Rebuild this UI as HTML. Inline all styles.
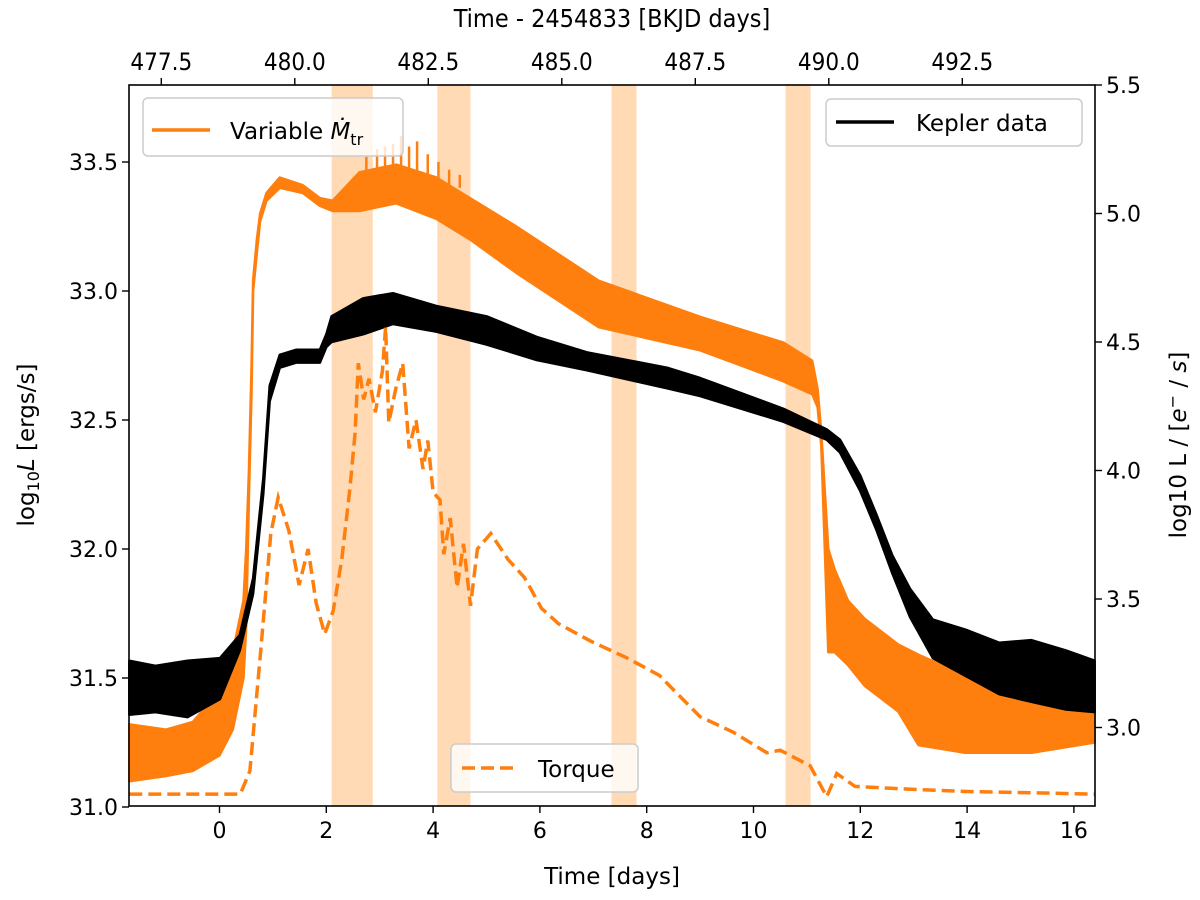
<!DOCTYPE html>
<html><head><meta charset="utf-8">
<style>
body{margin:0;background:#fff;}
svg text{font-family:"DejaVu Sans","Liberation Sans",sans-serif;fill:#000;}
</style></head>
<body>
<svg id="chart" width="1200" height="895" xmlns="http://www.w3.org/2000/svg">
<g id="shades"></g>
<g id="series"></g>
<rect x="129" y="85" width="966" height="721" fill="none" stroke="#000" stroke-width="1.6"/>
<g id="axes"></g>
<text x="612" y="884" font-size="23" text-anchor="middle">Time [days]</text>
<text x="612" y="27" font-size="25" text-anchor="middle" style="font-family:'DejaVu Sans Condensed','DejaVu Sans',sans-serif">Time - 2454833 [BKJD days]</text>
<text transform="translate(34,445) rotate(-90)" font-size="23" text-anchor="middle">log<tspan font-size="16" dy="5">10</tspan><tspan dy="-5" font-style="italic">L</tspan> [ergs/s]</text>
<text transform="translate(1186,445) rotate(-90)" font-size="23" text-anchor="middle">log10 L / [<tspan font-style="italic">e</tspan><tspan font-size="16" dy="-8">−</tspan><tspan dy="8"> / </tspan><tspan font-style="italic">s</tspan>]</text>
<g>
<rect x="143" y="98" width="260" height="58" rx="5" fill="#fff" fill-opacity="0.8" stroke="#ccc" stroke-width="1.5"/>
<line x1="152" y1="130" x2="210" y2="130" stroke="#ff7f0e" stroke-width="3.5"/>
<text x="230" y="139" font-size="23">Variable <tspan font-style="italic">Ṁ</tspan><tspan font-size="16" dy="6">tr</tspan></text>
</g>
<g>
<rect x="826" y="99" width="256" height="47" rx="5" fill="#fff" fill-opacity="0.8" stroke="#ccc" stroke-width="1.5"/>
<line x1="836" y1="122" x2="894" y2="122" stroke="#000" stroke-width="3.5"/>
<text x="916" y="131" font-size="23">Kepler data</text>
</g>
<g>
<rect x="451" y="744" width="187" height="48" rx="5" fill="#fff" fill-opacity="0.8" stroke="#ccc" stroke-width="1.5"/>
<line x1="462" y1="768" x2="518" y2="768" stroke="#ff7f0e" stroke-width="3.5" stroke-dasharray="13,6"/>
<text x="538" y="777" font-size="23">Torque</text>
</g>
</svg>
<script>
const shadeStarts=[2.1,4.08,7.34,10.6];
const shadeEnds=[2.87,4.70,7.81,11.07];
const bottomTicks=[0,2,4,6,8,10,12,14,16];
const topTicks=[477.5,480.0,482.5,485.0,487.5,490.0,492.5];
const leftTicks=[31.0,31.5,32.0,32.5,33.0,33.5];
const rightTicks=[3.0,3.5,4.0,4.5,5.0,5.5];
const mdotDays=[-1.69,-1.0,-0.5,0.0,0.25,0.45,0.5,0.55,0.6,0.63,0.7,0.76,0.88,1.13,1.56,1.88,2.12,2.62,3.31,4.06,4.69,5.56,7.1,9.0,10.56,11.1,11.2,11.27,11.4,11.52,11.77,12.08,12.71,13.09,13.96,15.21,16.39];
const mdotUpper=[31.32,31.3,31.33,31.45,31.6,31.8,32.0,32.3,32.7,33.04,33.2,33.3,33.38,33.44,33.41,33.36,33.35,33.46,33.49,33.44,33.36,33.25,33.04,32.9,32.8,32.73,32.62,32.45,32.0,31.92,31.8,31.73,31.63,31.59,31.51,31.47,31.37];
const mdotLower=[31.1,31.12,31.14,31.2,31.3,31.5,31.7,32.2,32.6,33.0,33.15,33.27,33.35,33.4,33.38,33.33,33.31,33.31,33.34,33.28,33.2,33.07,32.86,32.77,32.65,32.6,32.55,32.4,31.6,31.6,31.55,31.47,31.37,31.24,31.21,31.21,31.25];
const spikeDays=[2.75,2.95,3.1,3.25,3.4,3.55,3.7,3.9,4.1,4.3,4.5];
const spikeVals=[33.52,33.55,33.56,33.57,33.6,33.56,33.58,33.53,33.5,33.47,33.45];
const keplerDays=[-1.69,-1.2,-0.6,0.01,0.38,0.63,0.82,0.94,1.13,1.44,1.88,2.0,2.1,2.69,3.25,4.06,5.0,5.94,6.88,8.38,9.0,10.56,11.37,11.62,12.0,12.3,12.6,12.93,13.36,13.98,14.6,15.2,15.85,16.39];
const keplerUpper=[3.26,3.24,3.26,3.27,3.36,3.58,3.97,4.33,4.45,4.47,4.47,4.53,4.6,4.67,4.69,4.64,4.6,4.52,4.46,4.4,4.36,4.24,4.16,4.12,3.98,3.83,3.67,3.54,3.42,3.38,3.33,3.34,3.3,3.26];
const keplerLower=[3.05,3.06,3.04,3.11,3.3,3.52,3.91,4.27,4.4,4.42,4.42,4.48,4.5,4.53,4.57,4.54,4.49,4.43,4.39,4.32,4.29,4.19,4.12,4.07,3.92,3.77,3.6,3.43,3.27,3.2,3.13,3.1,3.07,3.06];
const torqueDays=[-1.69,0.39,0.57,0.77,0.96,1.10,1.30,1.49,1.66,1.81,1.97,2.13,2.29,2.44,2.54,2.6,2.7,2.8,2.92,3.05,3.11,3.17,3.3,3.43,3.55,3.68,3.81,3.9,4.0,4.13,4.2,4.32,4.45,4.57,4.7,4.83,5.08,5.4,5.71,6.03,6.35,6.98,7.61,8.24,8.52,9.0,9.62,10.25,10.5,11.06,11.37,11.56,11.9,12.8,14.0,16.39];
const torqueVals=[31.05,31.05,31.14,31.6,32.06,32.2,32.07,31.86,32.0,31.79,31.67,31.76,31.96,32.23,32.45,32.72,32.58,32.66,32.53,32.69,32.86,32.49,32.62,32.72,32.39,32.5,32.31,32.42,32.22,32.19,31.98,32.12,31.85,32.02,31.78,32.0,32.06,31.96,31.89,31.77,31.71,31.64,31.58,31.51,31.45,31.35,31.29,31.21,31.22,31.16,31.04,31.13,31.08,31.07,31.06,31.05];

const NS='http://www.w3.org/2000/svg';
const X0=129,X1=1095,Y0=85,Y1=806;
const xS=d=>219.5+53.4*d;
const xTop=t=>xS(t-478.59);
const yL=v=>162+(33.5-v)*258;
const yR=v=>85+(5.5-v)*257;
function mk(tag,parent,attrs){const e=document.createElementNS(NS,tag);for(const k in attrs)e.setAttribute(k,attrs[k]);parent.appendChild(e);return e;}
const shades=document.getElementById('shades'),series=document.getElementById('series'),axes=document.getElementById('axes');
shadeStarts.forEach((s,i)=>{
  const r=mk('rect',shades,{x:xS(s),y:Y0,width:xS(shadeEnds[i])-xS(s),height:Y1-Y0,fill:'#ffdab4'});
  
  
});
function band(days,up,lo,ys){
  let p=days.map((d,i)=>xS(d).toFixed(1)+','+ys(up[i]).toFixed(1));
  for(let i=days.length-1;i>=0;i--)p.push(xS(days[i]).toFixed(1)+','+ys(lo[i]).toFixed(1));
  return p.join(' ');
}
const mb=mk('polygon',series,{points:band(mdotDays,mdotUpper,mdotLower,yL),fill:'#ff7f0e',stroke:'#ff7f0e','stroke-width':2.5,'stroke-linejoin':'round'});


spikeDays.forEach((d,i)=>{
  const l=mk('line',series,{x1:xS(d),x2:xS(d),y1:yL(33.4),y2:yL(spikeVals[i]),stroke:'#ff7f0e','stroke-width':2.5});
  
  
});
const kb=mk('polygon',series,{points:band(keplerDays,keplerUpper,keplerLower,yR),fill:'#000',stroke:'#000','stroke-width':2.5,'stroke-linejoin':'round'});


const tl=mk('polyline',series,{points:torqueDays.map((d,i)=>xS(d).toFixed(1)+','+yL(torqueVals[i]).toFixed(1)).join(' '),fill:'none',stroke:'#ff7f0e','stroke-width':3.5,'stroke-dasharray':'13,6'});


function tick(x1,y1,x2,y2){mk('line',axes,{x1,y1,x2,y2,stroke:'#000','stroke-width':1.4});}
bottomTicks.forEach(t=>{const x=xS(t);tick(x,Y1,x,Y1+7);
  const e=mk('text',axes,{x,y:Y1+32,'font-size':22,'text-anchor':'middle'});e.textContent=String(t);
  
  });
topTicks.forEach(t=>{const x=xTop(t);tick(x,Y0,x,Y0-7);
  const e=mk('text',axes,{x,y:Y0-15,'font-size':24,'text-anchor':'middle',style:"font-family:'DejaVu Sans Condensed','DejaVu Sans',sans-serif"});e.textContent=t.toFixed(1);
  
  });
leftTicks.forEach(t=>{const y=yL(t);tick(X0,y,X0-7,y);
  const e=mk('text',axes,{x:X0-11,y:y+8,'font-size':22,'text-anchor':'end'});e.textContent=t.toFixed(1);
  
  });
rightTicks.forEach(t=>{const y=yR(t);tick(X1,y,X1+7,y);
  const e=mk('text',axes,{x:X1+11,y:y+8,'font-size':22,'text-anchor':'start'});e.textContent=t.toFixed(1);
  
  });
</script>
</body></html>
